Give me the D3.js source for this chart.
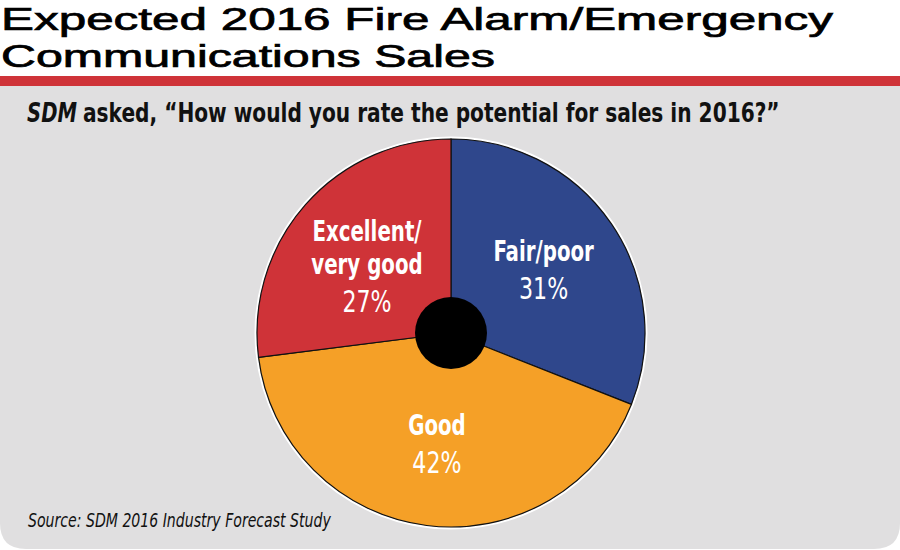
<!DOCTYPE html>
<html>
<head>
<meta charset="utf-8">
<script src="https://cdn.jsdelivr.net/npm/d3@7"></script>
<style>
  html, body { margin: 0; padding: 0; background: #ffffff; }
  svg { display: block; }
  .cond { font-family: "Liberation Sans Narrow", "DejaVu Sans Condensed", "Roboto Condensed", sans-serif; font-stretch: condensed; }
</style>
</head>
<body>
<svg id="chart" width="900" height="550"></svg>
<script>
// ---- data ----
const titleLines = ["Expected 2016 Fire Alarm/Emergency", "Communications Sales"];
const subtitleItalic = "SDM";
const subtitleRest = "asked, \u201CHow would you rate the potential for sales in 2016?\u201D";
const sourceText = "Source: SDM 2016 Industry Forecast Study";
const categories = ["Fair/poor", "Good", "Excellent/\nvery good"];
const values = [31, 42, 27];
const colors = ["#2f478c", "#f5a027", "#cf3338"];

// ---- layout ----
const W = 900, H = 550;
const svg = d3.select("#chart");

function squeeze(sel, f) {
  sel.each(function () {
    const w = this.getComputedTextLength();
    d3.select(this).attr("textLength", w * f).attr("lengthAdjust", "spacingAndGlyphs");
  });
}
// horizontally scale a left-anchored text to a target width
function fitWidth(sel, x, target) {
  sel.each(function () {
    const w = this.getComputedTextLength();
    const s = target / w;
    d3.select(this).attr("transform", `translate(${x},0) scale(${s},1) translate(${-x},0)`);
  });
}

// title
svg.append("g").selectAll("text").data(titleLines).join("text")
  .attr("x", 1)
  .attr("y", (d, i) => 30 + i * 37)
  .attr("font-family", "'Liberation Sans', Arial, Helvetica, sans-serif")
  .attr("font-size", 31)
  .attr("fill", "#000")
  .attr("stroke", "#000")
  .attr("stroke-width", 0.7)
  .attr("textLength", (d, i) => i === 0 ? 832 : 494)
  .attr("lengthAdjust", "spacingAndGlyphs")
  .text(d => d);

// red bar
svg.append("rect").attr("x", 0).attr("y", 76).attr("width", W).attr("height", 10).attr("fill", "#cf3339");

// gray panel with rounded bottom corners
const panelTop = 86, panelBot = 549, rc = 26;
svg.append("path")
  .attr("d", `M0,${panelTop} H${W} V${panelBot - rc} Q${W},${panelBot} ${W - rc},${panelBot} H${rc} Q0,${panelBot} 0,${panelBot - rc} Z`)
  .attr("fill", "#e0dfe0");

// subtitle
const s1 = svg.append("text")
  .attr("class", "cond")
  .attr("x", 27).attr("y", 122)
  .attr("font-size", 27)
  .attr("font-weight", "bold")
  .attr("font-style", "italic")
  .attr("fill", "#111")
  .text(subtitleItalic);
fitWidth(s1, 27, 50);
const s2 = svg.append("text")
  .attr("class", "cond")
  .attr("x", 83).attr("y", 122)
  .attr("font-size", 27)
  .attr("font-weight", "bold")
  .attr("fill", "#111")
  .text(subtitleRest);
fitWidth(s2, 83, 697);

// source
const src = svg.append("text")
  .attr("class", "cond")
  .attr("x", 28).attr("y", 527)
  .attr("font-size", 19)
  .attr("font-style", "italic")
  .attr("fill", "#111")
  .text(sourceText);
fitWidth(src, 28, 303);

// pie
const cx = 451, cy = 333, R = 194;
const g = svg.append("g").attr("transform", `translate(${cx},${cy})`);
const pie = d3.pie().sort(null).value(d => d.v);
const data = pie(categories.map((c, i) => ({ c, v: values[i], col: colors[i] })));
const arc = d3.arc().innerRadius(0).outerRadius(R);
const labelArc = d3.arc().innerRadius(112).outerRadius(112);

g.append("circle").attr("r", R + 1.5).attr("fill", "none").attr("stroke", "#ffffff").attr("stroke-width", 2);
g.selectAll("path.slice").data(data).join("path")
  .attr("class", "slice")
  .attr("d", arc)
  .attr("fill", d => d.data.col)
  .attr("stroke", "#111")
  .attr("stroke-width", 1.2);

g.append("circle").attr("r", 36).attr("fill", "#000");

// labels
data.forEach(d => {
  const [x, y] = labelArc.centroid(d);
  const lines = d.data.c.split("\n");
  const n = lines.length;
  const stepL = 33, stepP = 38, cap = 20;
  const span = (n - 1) * stepL + stepP + cap;
  const yc = y + (n - 1) * 8;
  const firstBase = yc - span / 2 + cap;
  const t = g.append("g");
  lines.forEach((ln, i) => {
    const tx = t.append("text")
      .attr("class", "cond")
      .attr("x", x).attr("y", firstBase + i * stepL)
      .attr("text-anchor", "middle")
      .attr("font-size", 27.5)
      .attr("font-weight", "bold")
      .attr("fill", "#fff")
      .text(ln);
    squeeze(tx, 0.8);
  });
  const tp = t.append("text")
    .attr("class", "cond")
    .attr("x", x).attr("y", firstBase + (n - 1) * stepL + stepP)
    .attr("text-anchor", "middle")
    .attr("font-size", 30)
    .attr("fill", "#fff")
    .text(d.data.v + "%");
  squeeze(tp, 0.82);
});
</script>
</body>
</html>
